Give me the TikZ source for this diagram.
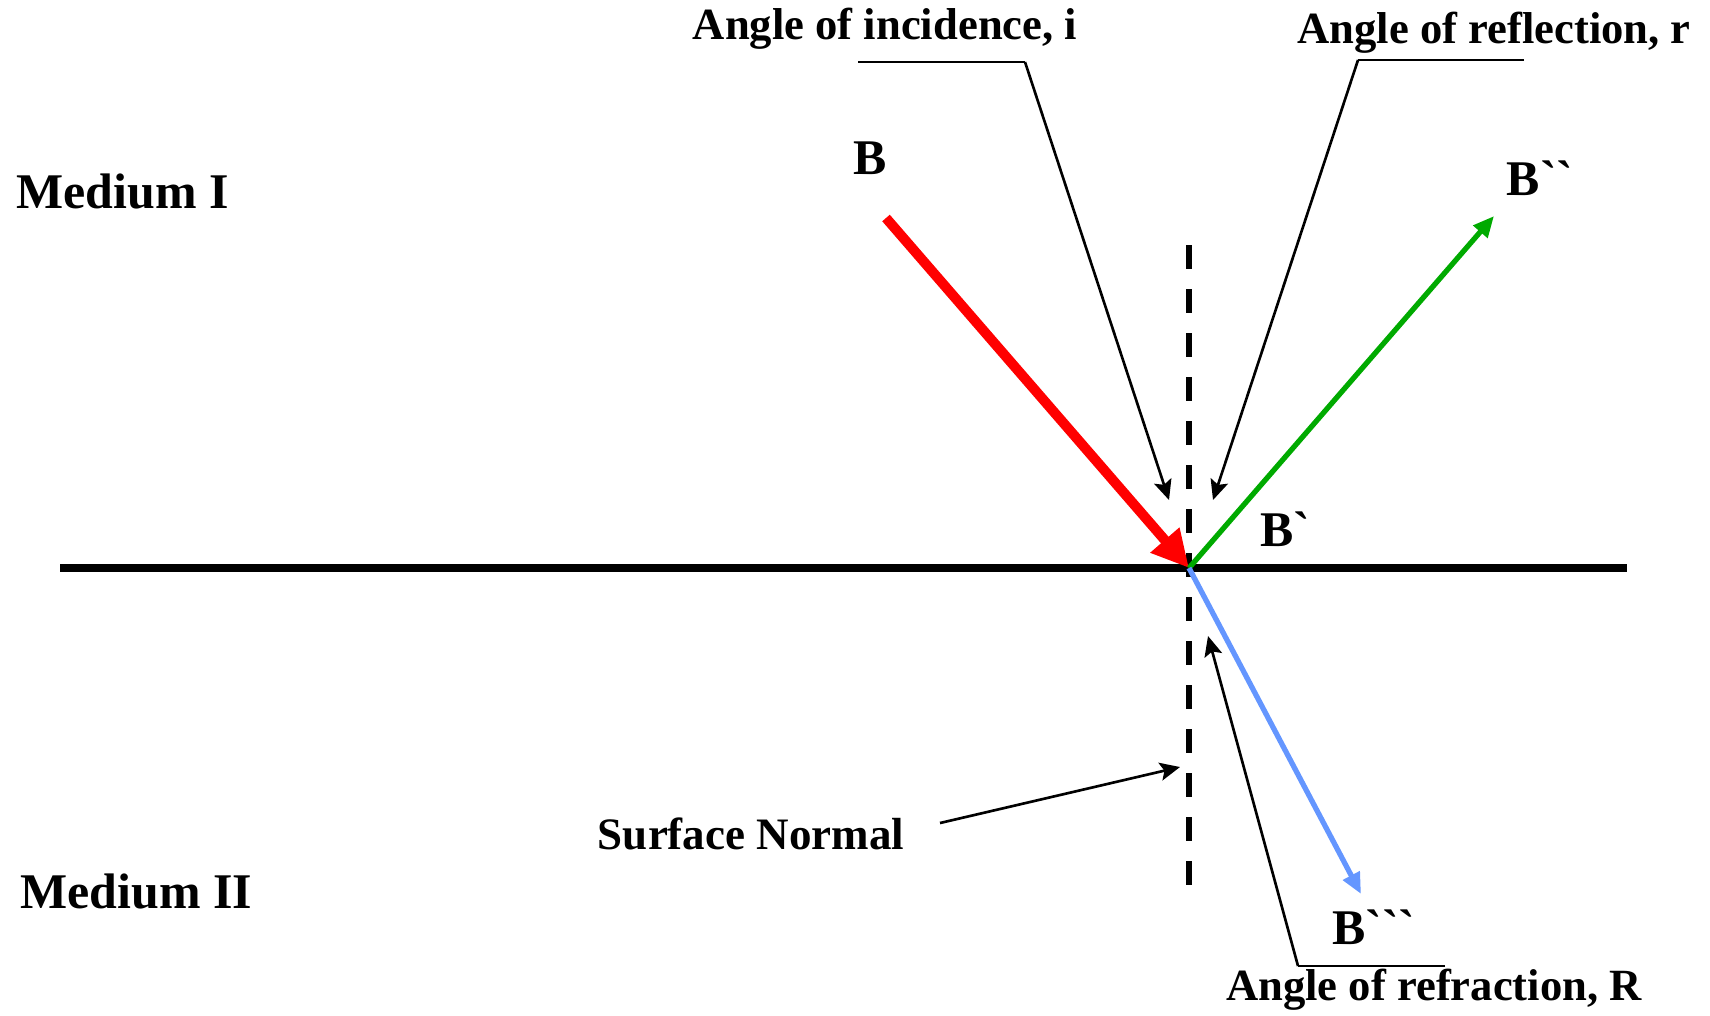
\documentclass[tikz,border=0pt]{standalone}
\usepackage{fontspec}
\setmainfont{Liberation Serif}
\usetikzlibrary{arrows.meta}
\definecolor{raygreen}{RGB}{0,170,0}
\definecolor{rayblue}{RGB}{100,150,255}
\newcommand{\grv}{\textasciigrave}

\begin{document}
\begin{tikzpicture}[
  every node/.style={font=\bfseries\fontsize{14.2}{16}\selectfont, inner sep=0pt},
  anglab/.style={font=\bfseries\fontsize{12.7}{15}\selectfont},
  ptr/.style={line width=0.75pt, -{Stealth[length=2mm,width=1.8mm,inset=0.4mm]}},
  lead/.style={line width=0.75pt}]
  \useasboundingbox (0,0) rectangle (17.1,10.15);
  \coordinate (o) at (11.89,4.47);
  \coordinate (sl) at (0.60,4.47);
  \coordinate (sr) at (16.27,4.47);
  \coordinate (nt) at (11.89,7.70);
  \coordinate (nb) at (11.89,1.29);
  \coordinate (b) at (8.86,7.97);
  \coordinate (b2) at (14.94,7.99);
  \coordinate (b3) at (13.61,1.21);
  \draw[line width=2pt] (sl) -- (sr);
  \draw[line width=1.8pt, dash pattern=on 0.24cm off 0.2cm] (nt) -- (nb);
  \draw[red, line width=1mm, -{Triangle[length=3.7mm,width=3.6mm]}] (b) -- (o);
  \draw[raygreen, line width=1.5pt, -{Triangle[length=2.1mm,width=1.8mm]}] (o) -- (b2);
  \draw[rayblue, line width=1.5pt, -{Triangle[length=2.1mm,width=1.8mm]}] (o) -- (b3);
  \node (lb) at (8.70,8.57) {B};
  \node (lb2) at (15.40,8.37) {B\grv\grv};
  \node (lb1) at (12.85,4.86) {B\grv};
  \node (lb3) at (13.74,0.88) {B\grv\grv\grv};
  \node[anchor=west] (m1) at (0.16,8.24) {Medium I};
  \node[anchor=west] (m2) at (0.20,1.24) {Medium II};
  \node[font=\bfseries\fontsize{12.8}{15}\selectfont] (sn) at (7.51,1.81) {Surface Normal};
  \node[anglab] (inc) at (8.85,9.86) {Angle of incidence, i};
  \node[anglab] (refl) at (14.94,9.82) {Angle of reflection, r};
  \node[anglab] (refr) at (14.34,0.25) {Angle of refraction, R};
  \coordinate (snt) at (11.80,2.48);
  \coordinate (inct) at (11.69,5.15);
  \coordinate (reflt) at (12.13,5.15);
  \coordinate (refrt) at (12.08,3.79);
  \draw[ptr] (9.40,1.92) -- (snt);
  \draw[lead] (8.58,9.53) -- (10.25,9.53);
  \draw[ptr] (10.25,9.53) -- (inct);
  \draw[lead] (15.24,9.55) -- (13.58,9.55);
  \draw[ptr] (13.58,9.55) -- (reflt);
  \draw[lead] (14.45,0.49) -- (12.98,0.49);
  \draw[ptr] (12.98,0.49) -- (refrt);
\end{tikzpicture}
\end{document}
